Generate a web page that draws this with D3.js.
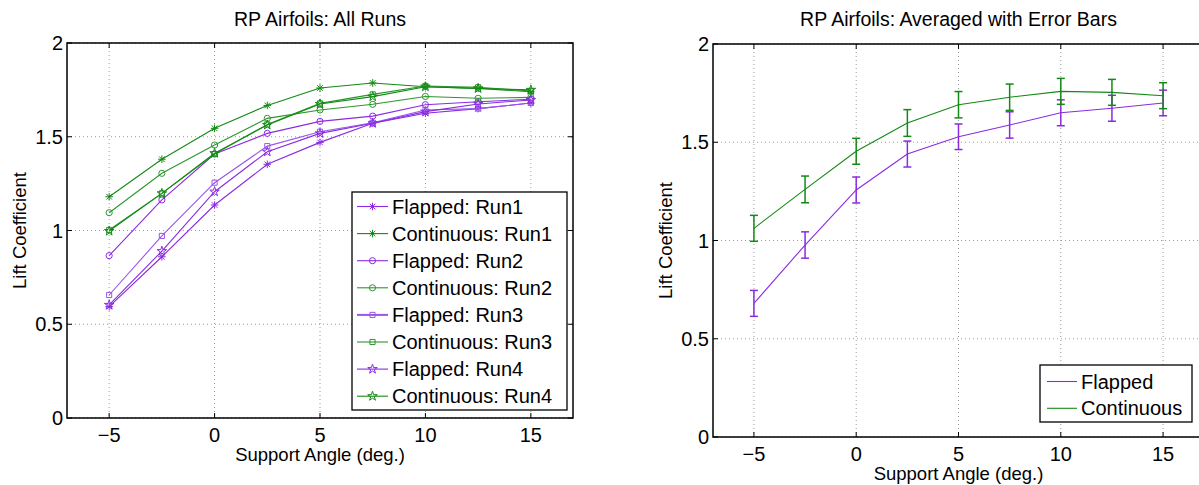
<!DOCTYPE html>
<html>
<head>
<meta charset="utf-8">
<script src="https://cdn.jsdelivr.net/npm/d3@7"></script>
<style>
  body { margin: 0; background: #fff; }
  text { font-family: "Liberation Sans", Arial, sans-serif; fill: #000; }
</style>
</head>
<body>
<div id="chart"></div>
<script>
// support angles (deg.)
const angles = [-5, -2.5, 0, 2.5, 5, 7.5, 10, 12.5, 15];

// lift coefficient, each run
const flappedRun1    = [0.594, 0.86, 1.136, 1.353, 1.47, 1.572, 1.625, 1.65, 1.68];
const continuousRun1 = [1.18, 1.38, 1.545, 1.667, 1.76, 1.787, 1.767, 1.758, 1.74];
const flappedRun2    = [0.866, 1.163, 1.408, 1.518, 1.582, 1.61, 1.671, 1.687, 1.70];
const continuousRun2 = [1.095, 1.305, 1.456, 1.598, 1.643, 1.673, 1.715, 1.705, 1.71];
const flappedRun3    = [0.656, 0.971, 1.255, 1.45, 1.527, 1.575, 1.643, 1.65, 1.68];
const continuousRun3 = [1.003, 1.198, 1.408, 1.566, 1.678, 1.726, 1.771, 1.764, 1.744];
const flappedRun4    = [0.603, 0.89, 1.207, 1.42, 1.518, 1.572, 1.634, 1.675, 1.696];
const continuousRun4 = [0.997, 1.198, 1.412, 1.563, 1.675, 1.714, 1.767, 1.758, 1.75];

// averaged values and error bar half widths
const flappedMean    = [0.68, 0.977, 1.257, 1.44, 1.528, 1.588, 1.65, 1.673, 1.70];
const flappedErr     = [0.066, 0.067, 0.066, 0.066, 0.065, 0.067, 0.066, 0.066, 0.065];
const continuousMean = [1.062, 1.26, 1.454, 1.598, 1.691, 1.729, 1.759, 1.754, 1.737];
const continuousErr  = [0.066, 0.068, 0.066, 0.068, 0.067, 0.067, 0.066, 0.066, 0.066];

const xTicks = [-5, 0, 5, 10, 15];
const yTicks = [0, 0.5, 1, 1.5, 2];

const purple = "#8a2be2";
const green = "#138a13";

const runSeries = [
  {name: "Flapped: Run1",    vals: flappedRun1,    color: purple,    mark: "asterisk"},
  {name: "Continuous: Run1", vals: continuousRun1, color: green,     mark: "asterisk"},
  {name: "Flapped: Run2",    vals: flappedRun2,    color: purple,    mark: "circle"},
  {name: "Continuous: Run2", vals: continuousRun2, color: "#2c962c", mark: "circle"},
  {name: "Flapped: Run3",    vals: flappedRun3,    color: "#9a55ea", mark: "square"},
  {name: "Continuous: Run3", vals: continuousRun3, color: "#2c962c", mark: "square"},
  {name: "Flapped: Run4",    vals: flappedRun4,    color: purple,    mark: "star"},
  {name: "Continuous: Run4", vals: continuousRun4, color: green,     mark: "star"}
];

const W = 1199, H = 485;
const svg = d3.select("#chart").append("svg")
  .attr("width", W).attr("height", H);

function markerPath(type) {
  if (type === "circle") return d3.symbol(d3.symbolCircle, 30)();
  if (type === "square") return d3.symbol(d3.symbolSquare, 26)();
  if (type === "star") return d3.symbol(d3.symbolStar, 28)();
  // asterisk: plus and cross
  const r = 3.8, q = 2.8;
  return `M${-r},0L${r},0M0,${-r}L0,${r}M${-q},${-q}L${q},${q}M${-q},${q}L${q},${-q}`;
}

// axes frame with grid, inward ticks, labels
function makePanel(left, top, right, bottom, title) {
  const x = d3.scaleLinear().domain([-7, 17]).range([left, right]);
  const y = d3.scaleLinear().domain([0, 2]).range([bottom, top]);
  const g = svg.append("g");

  // grid
  g.selectAll(".gx").data(xTicks).enter().append("line")
    .attr("x1", d => x(d)).attr("x2", d => x(d))
    .attr("y1", top).attr("y2", bottom)
    .attr("stroke", "#9a9a9a").attr("stroke-width", 1).attr("stroke-dasharray", "1,3");
  g.selectAll(".gy").data(yTicks).enter().append("line")
    .attr("x1", left).attr("x2", right)
    .attr("y1", d => y(d)).attr("y2", d => y(d))
    .attr("stroke", "#9a9a9a").attr("stroke-width", 1).attr("stroke-dasharray", "1,3");

  const frame = svg.append("g").attr("class", "frame");

  // box
  frame.append("rect")
    .attr("x", left).attr("y", top)
    .attr("width", right - left).attr("height", bottom - top)
    .attr("fill", "none").attr("stroke", "#000").attr("stroke-width", 1.5);

  // ticks, all four sides, inward
  const tl = 5;
  xTicks.forEach(t => {
    frame.append("line").attr("x1", x(t)).attr("x2", x(t)).attr("y1", bottom).attr("y2", bottom - tl).attr("stroke", "#000");
    frame.append("line").attr("x1", x(t)).attr("x2", x(t)).attr("y1", top).attr("y2", top + tl).attr("stroke", "#000");
  });
  yTicks.forEach(t => {
    frame.append("line").attr("x1", left).attr("x2", left + tl).attr("y1", y(t)).attr("y2", y(t)).attr("stroke", "#000");
    frame.append("line").attr("x1", right).attr("x2", right - tl).attr("y1", y(t)).attr("y2", y(t)).attr("stroke", "#000");
  });

  const fmt = d3.format("");
  frame.selectAll(".xt").data(xTicks).enter().append("text")
    .attr("x", d => x(d)).attr("y", bottom + 24)
    .attr("text-anchor", "middle").attr("font-size", 20)
    .text(d => fmt(d));
  frame.selectAll(".yt").data(yTicks).enter().append("text")
    .attr("x", left - 4).attr("y", d => y(d) + 7)
    .attr("text-anchor", "end").attr("font-size", 20)
    .text(d => fmt(d));

  svg.append("text")
    .attr("x", (left + right) / 2).attr("y", 26)
    .attr("text-anchor", "middle").attr("font-size", 19.5)
    .text(title);
  svg.append("text")
    .attr("x", (left + right) / 2).attr("y", bottom + 43)
    .attr("text-anchor", "middle").attr("font-size", 18.5)
    .text("Support Angle (deg.)");
  svg.append("text")
    .attr("transform", `translate(${left - 41},${(top + bottom) / 2}) rotate(-90)`)
    .attr("text-anchor", "middle").attr("font-size", 18.5)
    .text("Lift Coefficient");

  return {x, y, g, frame};
}

// ---- left: all runs
const L = makePanel(67, 43, 573, 418, "RP Airfoils: All Runs");
const lineL = d3.line().x((d, i) => L.x(angles[i])).y(d => L.y(d));

runSeries.forEach(s => {
  L.g.append("path").datum(s.vals)
    .attr("d", lineL).attr("fill", "none")
    .attr("stroke", s.color).attr("stroke-width", 1.1);
  L.g.selectAll(null).data(s.vals).enter().append("path")
    .attr("transform", (d, i) => `translate(${L.x(angles[i])},${L.y(d)})`)
    .attr("d", markerPath(s.mark))
    .attr("fill", s.mark === "asterisk" ? s.color : "none")
    .attr("stroke", s.color).attr("stroke-width", 1);
});

// legend left
const legL = svg.append("g");
legL.append("rect").attr("x", 352).attr("y", 192).attr("width", 215).attr("height", 218)
  .attr("fill", "#fff").attr("stroke", "#000").attr("stroke-width", 1.3);
runSeries.forEach((s, i) => {
  const cy = 206.5 + i * 27.1;
  legL.append("line").attr("x1", 357).attr("x2", 388).attr("y1", cy).attr("y2", cy)
    .attr("stroke", s.color).attr("stroke-width", s.name === "Flapped: Run3" ? 2 : 1.1);
  legL.append("path").attr("transform", `translate(372.5,${cy})`)
    .attr("d", markerPath(s.mark))
    .attr("fill", s.mark === "asterisk" ? s.color : "none")
    .attr("stroke", s.color).attr("stroke-width", 1);
  legL.append("text").attr("x", 392).attr("y", cy + 7)
    .attr("font-size", 20).text(s.name);
});

// ---- right: averaged with error bars
const R = makePanel(713, 44, 1204, 437, "RP Airfoils: Averaged with Error Bars");
const lineR = d3.line().x((d, i) => R.x(angles[i])).y(d => R.y(d));

const avgSeries = [
  {name: "Flapped", mean: flappedMean, err: flappedErr, color: purple},
  {name: "Continuous", mean: continuousMean, err: continuousErr, color: green}
];

avgSeries.forEach(s => {
  const cap = 4;
  s.mean.forEach((m, i) => {
    const cx = R.x(angles[i]);
    const y1 = R.y(m + s.err[i]), y2 = R.y(m - s.err[i]);
    R.g.append("line").attr("x1", cx).attr("x2", cx).attr("y1", y1).attr("y2", y2)
      .attr("stroke", s.color).attr("stroke-width", 1.5);
    R.g.append("line").attr("x1", cx - cap).attr("x2", cx + cap).attr("y1", y1).attr("y2", y1)
      .attr("stroke", s.color).attr("stroke-width", 1.5);
    R.g.append("line").attr("x1", cx - cap).attr("x2", cx + cap).attr("y1", y2).attr("y2", y2)
      .attr("stroke", s.color).attr("stroke-width", 1.5);
  });
  R.g.append("path").datum(s.mean)
    .attr("d", lineR).attr("fill", "none")
    .attr("stroke", s.color).attr("stroke-width", 1.1);
});

const legR = svg.append("g");
legR.append("rect").attr("x", 1040).attr("y", 365).attr("width", 152).attr("height", 57)
  .attr("fill", "#fff").attr("stroke", "#000").attr("stroke-width", 1.3);
avgSeries.forEach((s, i) => {
  const cy = 381.5 + i * 26.8;
  legR.append("line").attr("x1", 1047).attr("x2", 1077).attr("y1", cy).attr("y2", cy)
    .attr("stroke", s.color).attr("stroke-width", 1.1);
  legR.append("text").attr("x", 1081).attr("y", cy + 7)
    .attr("font-size", 20).text(s.name);
});
</script>
</body>
</html>
